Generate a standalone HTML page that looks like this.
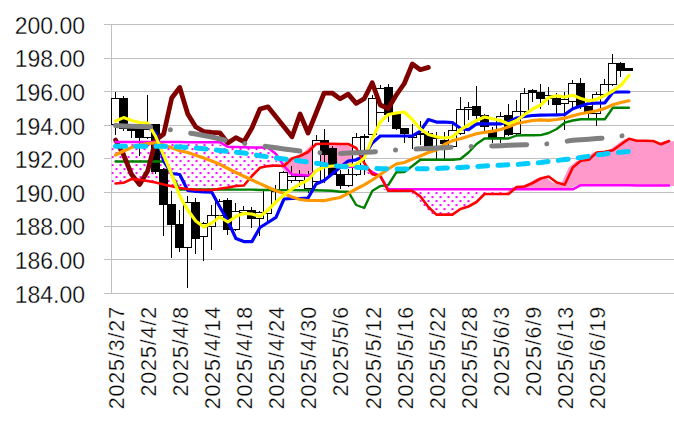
<!DOCTYPE html>
<html><head><meta charset="utf-8"><style>
html,body{margin:0;padding:0;background:#fff;width:674px;height:431px;overflow:hidden;position:relative}
body{font-family:"Liberation Sans",sans-serif;color:#000;-webkit-text-stroke:0.3px #fff}
.yl{position:absolute;right:589px;font-size:23px;line-height:30px;height:30px;white-space:nowrap}
.xl{position:absolute;top:506px;width:200px;height:24px;line-height:24px;text-align:right;font-size:21.5px;letter-spacing:0.85px;transform-origin:0 0;transform:rotate(-90deg);white-space:nowrap}
</style></head><body>
<svg width="674" height="431" viewBox="0 0 674 431" style="position:absolute;left:0;top:0"><g stroke="#c0c0c0" stroke-width="1" shape-rendering="crispEdges"><line x1="104" y1="24.50" x2="674" y2="24.50"/><line x1="104" y1="58.50" x2="674" y2="58.50"/><line x1="104" y1="91.50" x2="674" y2="91.50"/><line x1="104" y1="125.50" x2="674" y2="125.50"/><line x1="104" y1="158.50" x2="674" y2="158.50"/><line x1="104" y1="192.50" x2="674" y2="192.50"/><line x1="104" y1="226.50" x2="674" y2="226.50"/><line x1="104" y1="259.50" x2="674" y2="259.50"/><line x1="104" y1="293.50" x2="674" y2="293.50"/><line x1="111.5" y1="24" x2="111.5" y2="294"/></g><defs><pattern id="dots" width="8" height="8" patternUnits="userSpaceOnUse" patternTransform="translate(-0.5,4.1)"><rect x="0" y="0" width="8" height="8" fill="#fff"/><rect x="0" y="0" width="2" height="2" fill="#ff00ff"/><rect x="4" y="4" width="2" height="2" fill="#ff00ff"/></pattern></defs><polygon points="111.55,183.50 119.57,182.80 127.59,179.00 135.61,179.80 143.63,181.00 151.66,182.50 159.68,184.50 167.70,186.20 175.72,188.00 183.74,189.00 191.76,189.80 199.78,190.00 207.80,190.00 215.82,188.70 223.84,187.50 231.87,186.00 239.89,185.50 247.91,176.00 255.93,167.80 263.95,166.10 271.97,165.50 279.99,166.00 288.01,158.50 296.03,156.00 304.05,152.00 312.08,144.00 320.10,143.70 328.12,143.70 336.14,144.00 344.16,144.00 352.18,148.00 360.20,163.00 368.22,174.30 376.24,176.00 384.26,190.80 392.29,190.80 400.31,190.80 408.33,190.80 416.35,196.50 424.37,207.00 432.39,214.60 440.41,214.60 448.43,214.60 456.45,209.00 464.47,206.50 472.50,202.00 480.52,194.00 488.54,194.00 496.56,194.00 504.58,194.00 512.60,187.00 520.62,186.50 528.64,183.00 536.66,178.50 544.68,176.50 552.71,182.50 560.73,184.80 568.75,167.50 576.77,160.80 584.79,159.80 592.81,152.50 600.83,151.80 608.85,150.20 616.87,144.50 624.89,138.80 632.91,140.80 640.94,140.80 648.96,141.00 656.98,144.30 665.00,141.00 673.02,141.20 681.04,141.20 681.04,186.00 673.02,186.00 665.00,185.50 656.98,185.47 648.96,185.45 640.94,185.42 632.91,185.39 624.89,185.36 616.87,185.34 608.85,185.31 600.83,185.28 592.81,185.25 584.79,185.23 576.77,185.20 568.75,189.30 560.73,189.30 552.71,189.30 544.68,189.30 536.66,189.30 528.64,189.30 520.62,189.30 512.60,189.30 504.58,194.00 496.56,194.00 488.54,194.00 480.52,194.00 472.50,202.00 464.47,206.50 456.45,209.00 448.43,214.60 440.41,214.60 432.39,214.60 424.37,207.00 416.35,196.50 408.33,190.80 400.31,190.80 392.29,190.80 384.26,190.80 376.24,176.00 368.22,174.30 360.20,167.00 352.18,166.86 344.16,166.72 336.14,166.58 328.12,166.44 320.10,166.30 312.08,170.95 304.05,175.60 296.03,175.05 288.01,174.50 279.99,166.00 271.97,165.50 263.95,166.10 255.93,167.80 247.91,176.00 239.89,185.50 231.87,186.00 223.84,187.50 215.82,188.70 207.80,190.00 199.78,190.00 191.76,189.80 183.74,189.00 175.72,188.00 167.70,186.20 159.68,184.50 151.66,182.50 143.63,181.00 135.61,179.80 127.59,179.00 119.57,182.80 111.55,183.50" fill="#ff99cc"/><polygon points="111.55,142.00 119.57,142.02 127.59,142.03 135.61,142.05 143.63,142.06 151.66,142.08 159.68,142.09 167.70,142.11 175.72,142.12 183.74,142.14 191.76,142.15 199.78,142.17 207.80,142.18 215.82,142.20 223.84,146.80 231.87,147.00 239.89,147.20 247.91,147.40 255.93,147.60 263.95,147.80 271.97,154.00 279.99,166.00 288.01,158.50 296.03,156.00 304.05,152.00 312.08,144.00 320.10,143.70 328.12,143.70 336.14,144.00 344.16,144.00 352.18,148.00 360.20,163.00 368.22,172.00 376.24,176.00 384.26,189.30 392.29,189.30 400.31,189.30 408.33,189.30 416.35,189.30 424.37,189.30 432.39,189.30 440.41,189.30 448.43,189.30 456.45,189.30 464.47,189.30 472.50,189.30 480.52,189.30 488.54,189.30 496.56,189.30 504.58,189.30 512.60,187.00 520.62,186.50 528.64,183.00 536.66,178.50 544.68,176.50 552.71,182.50 560.73,184.80 568.75,167.50 576.77,160.80 584.79,159.80 592.81,152.50 600.83,151.80 608.85,150.20 616.87,144.50 624.89,138.80 632.91,140.80 640.94,140.80 648.96,141.00 656.98,144.30 665.00,141.00 673.02,141.20 681.04,141.20 681.04,141.20 673.02,141.20 665.00,141.00 656.98,144.30 648.96,141.00 640.94,140.80 632.91,140.80 624.89,138.80 616.87,144.50 608.85,150.20 600.83,151.80 592.81,152.50 584.79,159.80 576.77,160.80 568.75,167.50 560.73,184.80 552.71,182.50 544.68,176.50 536.66,178.50 528.64,183.00 520.62,186.50 512.60,187.00 504.58,194.00 496.56,194.00 488.54,194.00 480.52,194.00 472.50,202.00 464.47,206.50 456.45,209.00 448.43,214.60 440.41,214.60 432.39,214.60 424.37,207.00 416.35,196.50 408.33,190.80 400.31,190.80 392.29,190.80 384.26,190.80 376.24,176.00 368.22,174.30 360.20,163.00 352.18,148.00 344.16,144.00 336.14,144.00 328.12,143.70 320.10,143.70 312.08,144.00 304.05,152.00 296.03,156.00 288.01,158.50 279.99,166.00 271.97,165.50 263.95,166.10 255.93,167.80 247.91,176.00 239.89,185.50 231.87,186.00 223.84,187.50 215.82,188.70 207.80,190.00 199.78,190.00 191.76,189.80 183.74,189.00 175.72,188.00 167.70,186.20 159.68,184.50 151.66,182.50 143.63,181.00 135.61,179.80 127.59,179.00 119.57,182.80 111.55,183.50" fill="url(#dots)"/><g shape-rendering="crispEdges"><line x1="115.5" y1="92" x2="115.5" y2="135" stroke="#000" stroke-width="1"/><rect x="111.5" y="98.5" width="8" height="26" fill="#fff" stroke="#000" stroke-width="1"/><line x1="123.5" y1="96" x2="123.5" y2="131" stroke="#000" stroke-width="1"/><rect x="119" y="98" width="9" height="31" fill="#000"/><line x1="131.5" y1="128" x2="131.5" y2="138" stroke="#000" stroke-width="1"/><rect x="127" y="128" width="9" height="3" fill="#000"/><line x1="139.5" y1="128" x2="139.5" y2="156" stroke="#000" stroke-width="1"/><rect x="135" y="128" width="9" height="10" fill="#000"/><line x1="147.5" y1="95" x2="147.5" y2="139" stroke="#000" stroke-width="1"/><rect x="143.5" y="129.5" width="8" height="8" fill="#fff" stroke="#000" stroke-width="1"/><line x1="155.5" y1="124" x2="155.5" y2="174" stroke="#000" stroke-width="1"/><rect x="151" y="124" width="9" height="48" fill="#000"/><line x1="163.5" y1="168" x2="163.5" y2="236" stroke="#000" stroke-width="1"/><rect x="159" y="169" width="9" height="36" fill="#000"/><line x1="171.5" y1="191" x2="171.5" y2="258" stroke="#000" stroke-width="1"/><rect x="167" y="204" width="9" height="21" fill="#000"/><line x1="179.5" y1="210" x2="179.5" y2="252" stroke="#000" stroke-width="1"/><rect x="175" y="224" width="9" height="24" fill="#000"/><line x1="187.5" y1="196" x2="187.5" y2="288" stroke="#000" stroke-width="1"/><rect x="183.5" y="202.5" width="8" height="45" fill="#fff" stroke="#000" stroke-width="1"/><line x1="195.5" y1="198" x2="195.5" y2="254" stroke="#000" stroke-width="1"/><rect x="191" y="202" width="9" height="37" fill="#000"/><line x1="203.5" y1="222" x2="203.5" y2="261" stroke="#000" stroke-width="1"/><rect x="199.5" y="223.5" width="8" height="13" fill="#fff" stroke="#000" stroke-width="1"/><line x1="211.5" y1="205" x2="211.5" y2="250" stroke="#000" stroke-width="1"/><rect x="207.5" y="215.5" width="8" height="11" fill="#fff" stroke="#000" stroke-width="1"/><line x1="219.5" y1="199" x2="219.5" y2="217" stroke="#000" stroke-width="1"/><rect x="215.5" y="201.5" width="8" height="14" fill="#fff" stroke="#000" stroke-width="1"/><line x1="227.5" y1="198" x2="227.5" y2="235" stroke="#000" stroke-width="1"/><rect x="223" y="200" width="9" height="30" fill="#000"/><line x1="235.5" y1="203" x2="235.5" y2="231" stroke="#000" stroke-width="1"/><rect x="231.5" y="211.5" width="8" height="18" fill="#fff" stroke="#000" stroke-width="1"/><line x1="243.5" y1="206" x2="243.5" y2="214" stroke="#000" stroke-width="1"/><rect x="239.5" y="210.5" width="8" height="2" fill="#fff" stroke="#000" stroke-width="1"/><line x1="251.5" y1="207" x2="251.5" y2="228" stroke="#000" stroke-width="1"/><rect x="247" y="210" width="9" height="9" fill="#000"/><line x1="259.5" y1="211" x2="259.5" y2="236" stroke="#000" stroke-width="1"/><rect x="255.5" y="212.5" width="8" height="6" fill="#fff" stroke="#000" stroke-width="1"/><line x1="267.5" y1="190" x2="267.5" y2="222" stroke="#000" stroke-width="1"/><rect x="263.5" y="190.5" width="8" height="23" fill="#fff" stroke="#000" stroke-width="1"/><line x1="275.5" y1="185" x2="275.5" y2="202" stroke="#000" stroke-width="1"/><rect x="271.5" y="190.5" width="8" height="1" fill="#fff" stroke="#000" stroke-width="1"/><line x1="283.5" y1="171" x2="283.5" y2="194" stroke="#000" stroke-width="1"/><rect x="279.5" y="172.5" width="8" height="20" fill="#fff" stroke="#000" stroke-width="1"/><line x1="291.5" y1="166" x2="291.5" y2="183" stroke="#000" stroke-width="1"/><rect x="287.5" y="176.5" width="8" height="4" fill="#fff" stroke="#000" stroke-width="1"/><line x1="299.5" y1="170" x2="299.5" y2="187" stroke="#000" stroke-width="1"/><rect x="295.5" y="176.5" width="9" height="4" fill="#fff" stroke="#000" stroke-width="1"/><line x1="308.5" y1="171" x2="308.5" y2="193" stroke="#000" stroke-width="1"/><rect x="304.5" y="176.5" width="8" height="12" fill="#fff" stroke="#000" stroke-width="1"/><line x1="316.5" y1="135" x2="316.5" y2="183" stroke="#000" stroke-width="1"/><rect x="312.5" y="140.5" width="8" height="41" fill="#fff" stroke="#000" stroke-width="1"/><line x1="324.5" y1="129" x2="324.5" y2="183" stroke="#000" stroke-width="1"/><rect x="320" y="140" width="9" height="15" fill="#000"/><line x1="332.5" y1="146" x2="332.5" y2="175" stroke="#000" stroke-width="1"/><rect x="328" y="148" width="9" height="27" fill="#000"/><line x1="340.5" y1="170" x2="340.5" y2="189" stroke="#000" stroke-width="1"/><rect x="336" y="174" width="9" height="12" fill="#000"/><line x1="348.5" y1="169" x2="348.5" y2="187" stroke="#000" stroke-width="1"/><rect x="344.5" y="174.5" width="8" height="11" fill="#fff" stroke="#000" stroke-width="1"/><line x1="356.5" y1="133" x2="356.5" y2="176" stroke="#000" stroke-width="1"/><rect x="352.5" y="137.5" width="8" height="37" fill="#fff" stroke="#000" stroke-width="1"/><line x1="364.5" y1="134" x2="364.5" y2="175" stroke="#000" stroke-width="1"/><rect x="360.5" y="136.5" width="8" height="1" fill="#fff" stroke="#000" stroke-width="1"/><line x1="372.5" y1="95" x2="372.5" y2="136" stroke="#000" stroke-width="1"/><rect x="368.5" y="98.5" width="8" height="36" fill="#fff" stroke="#000" stroke-width="1"/><line x1="380.5" y1="85" x2="380.5" y2="113" stroke="#000" stroke-width="1"/><rect x="376.5" y="88.5" width="8" height="24" fill="#fff" stroke="#000" stroke-width="1"/><line x1="388.5" y1="84" x2="388.5" y2="122" stroke="#000" stroke-width="1"/><rect x="384" y="87" width="9" height="28" fill="#000"/><line x1="396.5" y1="113" x2="396.5" y2="130" stroke="#000" stroke-width="1"/><rect x="392" y="114" width="9" height="15" fill="#000"/><line x1="404.5" y1="128" x2="404.5" y2="143" stroke="#000" stroke-width="1"/><rect x="400" y="128" width="9" height="6" fill="#000"/><line x1="412.5" y1="124" x2="412.5" y2="149" stroke="#000" stroke-width="1"/><rect x="408.5" y="135.5" width="8" height="2" fill="#fff" stroke="#000" stroke-width="1"/><line x1="420.5" y1="121" x2="420.5" y2="145" stroke="#000" stroke-width="1"/><rect x="416.5" y="133.5" width="8" height="1" fill="#fff" stroke="#000" stroke-width="1"/><line x1="428.5" y1="131" x2="428.5" y2="147" stroke="#000" stroke-width="1"/><rect x="424" y="133" width="9" height="14" fill="#000"/><line x1="436.5" y1="132" x2="436.5" y2="160" stroke="#000" stroke-width="1"/><rect x="432.5" y="137.5" width="8" height="1" fill="#fff" stroke="#000" stroke-width="1"/><line x1="444.5" y1="132" x2="444.5" y2="159" stroke="#000" stroke-width="1"/><rect x="440" y="140" width="9" height="4" fill="#000"/><line x1="452.5" y1="124" x2="452.5" y2="148" stroke="#000" stroke-width="1"/><rect x="448.5" y="130.5" width="8" height="16" fill="#fff" stroke="#000" stroke-width="1"/><line x1="460.5" y1="97" x2="460.5" y2="135" stroke="#000" stroke-width="1"/><rect x="456.5" y="109.5" width="8" height="24" fill="#fff" stroke="#000" stroke-width="1"/><line x1="468.5" y1="102" x2="468.5" y2="120" stroke="#000" stroke-width="1"/><rect x="464.5" y="107.5" width="8" height="2" fill="#fff" stroke="#000" stroke-width="1"/><line x1="476.5" y1="86" x2="476.5" y2="120" stroke="#000" stroke-width="1"/><rect x="472" y="106" width="9" height="10" fill="#000"/><line x1="484.5" y1="114" x2="484.5" y2="133" stroke="#000" stroke-width="1"/><rect x="480" y="115" width="9" height="12" fill="#000"/><line x1="492.5" y1="127" x2="492.5" y2="143" stroke="#000" stroke-width="1"/><rect x="488" y="130" width="9" height="8" fill="#000"/><line x1="500.5" y1="112" x2="500.5" y2="143" stroke="#000" stroke-width="1"/><rect x="496.5" y="116.5" width="8" height="21" fill="#fff" stroke="#000" stroke-width="1"/><line x1="508.5" y1="104" x2="508.5" y2="136" stroke="#000" stroke-width="1"/><rect x="504" y="115" width="9" height="20" fill="#000"/><line x1="516.5" y1="100" x2="516.5" y2="135" stroke="#000" stroke-width="1"/><rect x="512.5" y="111.5" width="8" height="22" fill="#fff" stroke="#000" stroke-width="1"/><line x1="524.5" y1="88" x2="524.5" y2="113" stroke="#000" stroke-width="1"/><rect x="520.5" y="93.5" width="8" height="18" fill="#fff" stroke="#000" stroke-width="1"/><line x1="532.5" y1="89" x2="532.5" y2="102" stroke="#000" stroke-width="1"/><rect x="528" y="90" width="9" height="3" fill="#000"/><line x1="540.5" y1="84" x2="540.5" y2="109" stroke="#000" stroke-width="1"/><rect x="536" y="92" width="9" height="7" fill="#000"/><line x1="548.5" y1="87" x2="548.5" y2="105" stroke="#000" stroke-width="1"/><rect x="544.5" y="95.5" width="8" height="3" fill="#fff" stroke="#000" stroke-width="1"/><line x1="556.5" y1="93" x2="556.5" y2="115" stroke="#000" stroke-width="1"/><rect x="552" y="98" width="9" height="7" fill="#000"/><line x1="564.5" y1="92" x2="564.5" y2="130" stroke="#000" stroke-width="1"/><rect x="560.5" y="99.5" width="8" height="4" fill="#fff" stroke="#000" stroke-width="1"/><line x1="572.5" y1="80" x2="572.5" y2="110" stroke="#000" stroke-width="1"/><rect x="568.5" y="83.5" width="8" height="18" fill="#fff" stroke="#000" stroke-width="1"/><line x1="580.5" y1="78" x2="580.5" y2="109" stroke="#000" stroke-width="1"/><rect x="576" y="83" width="9" height="24" fill="#000"/><line x1="588.5" y1="106" x2="588.5" y2="119" stroke="#000" stroke-width="1"/><rect x="584" y="106" width="9" height="8" fill="#000"/><line x1="596.5" y1="92" x2="596.5" y2="126" stroke="#000" stroke-width="1"/><rect x="592.5" y="94.5" width="8" height="19" fill="#fff" stroke="#000" stroke-width="1"/><line x1="604.5" y1="79" x2="604.5" y2="96" stroke="#000" stroke-width="1"/><rect x="600.5" y="84.5" width="8" height="10" fill="#fff" stroke="#000" stroke-width="1"/><line x1="612.5" y1="54" x2="612.5" y2="86" stroke="#000" stroke-width="1"/><rect x="608.5" y="63.5" width="8" height="21" fill="#fff" stroke="#000" stroke-width="1"/><line x1="620.5" y1="62" x2="620.5" y2="77" stroke="#000" stroke-width="1"/><rect x="616" y="63" width="9" height="8" fill="#000"/><line x1="628.5" y1="68" x2="628.5" y2="71" stroke="#000" stroke-width="1"/><rect x="624" y="68" width="9" height="3" fill="#000"/></g><polyline points="115.56,161.50 123.58,161.50 131.60,161.50 139.62,161.50 147.64,161.50 155.67,161.50 163.69,161.50 171.71,175.00 179.73,189.50 187.75,189.51 195.77,189.52 203.79,189.53 211.81,189.54 219.83,189.56 227.85,189.57 235.88,189.58 243.90,189.59 251.92,189.60 259.94,190.00 267.96,190.04 275.98,190.09 284.00,190.13 292.02,190.17 300.04,190.21 308.06,190.26 316.09,190.30 324.11,190.50 332.13,190.80 340.15,191.70 348.17,191.70 356.19,205.00 364.21,208.00 372.23,191.00 380.25,186.10 388.27,185.00 396.30,172.30 404.32,172.00 412.34,166.00 420.36,159.70 428.38,159.70 436.40,159.70 444.42,159.70 452.44,159.70 460.46,159.00 468.48,152.50 476.51,144.00 484.53,138.50 492.55,138.50 500.57,138.50 508.59,138.50 516.61,135.50 524.63,135.30 532.65,135.20 540.67,135.10 548.69,133.00 556.72,129.00 564.74,122.70 572.76,120.50 580.78,119.30 588.80,119.30 596.82,119.30 604.84,119.30 612.86,107.70 620.88,107.70 628.90,107.70" fill="none" stroke="#008000" stroke-width="2.4" stroke-linejoin="round" stroke-linecap="round" /><polyline points="115.56,140.00 123.58,155.00 131.60,174.50 139.62,184.50 147.64,171.00 155.67,140.00 163.69,134.00 171.71,98.00 179.73,87.50 187.75,114.00 195.77,127.00 203.79,131.50 211.81,132.30 219.83,132.80 227.85,143.00 235.88,137.60 243.90,141.70 251.92,128.00 259.94,109.00 267.96,106.80 275.98,116.70 284.00,126.70 292.02,136.80 300.04,114.00 308.06,133.00 316.09,113.00 324.11,93.00 332.13,93.00 340.15,98.80 348.17,94.10 356.19,103.40 364.21,98.80 372.23,82.70 380.25,105.00 388.27,108.50 396.30,95.00 404.32,83.50 412.34,64.00 420.36,69.70 428.38,67.40" fill="none" stroke="#800000" stroke-width="4.75" stroke-linejoin="round" stroke-linecap="round" /><polyline points="115.56,126.00 123.58,126.25 131.60,126.50 139.62,126.75 147.64,127.00 155.67,133.00 163.69,161.00 171.71,173.50 179.73,174.50 187.75,190.50 195.77,191.50 203.79,192.00 211.81,192.20 219.83,207.00 227.85,221.00 235.88,238.50 243.90,241.60 251.92,241.60 259.94,227.50 267.96,222.50 275.98,217.40 284.00,199.00 292.02,198.50 300.04,198.50 308.06,198.00 316.09,184.00 324.11,180.50 332.13,174.00 340.15,167.20 348.17,161.00 356.19,159.80 364.21,156.00 372.23,143.00 380.25,136.00 388.27,136.00 396.30,136.00 404.32,136.00 412.34,136.00 420.36,131.00 428.38,119.50 436.40,122.10 444.42,122.10 452.44,122.50 460.46,128.30 468.48,129.70 476.51,123.90 484.53,123.90 492.55,123.90 500.57,123.90 508.59,122.00 516.61,118.00 524.63,116.50 532.65,115.50 540.67,115.20 548.69,115.00 556.72,114.80 564.74,114.50 572.76,108.70 580.78,106.00 588.80,103.50 596.82,103.20 604.84,102.80 612.86,92.20 620.88,92.00 628.90,92.00" fill="none" stroke="#0000ff" stroke-width="3.2" stroke-linejoin="round" stroke-linecap="round" /><polyline points="115.56,142.00 123.58,142.02 131.60,142.03 139.62,142.05 147.64,142.06 155.67,142.08 163.69,142.09 171.71,142.11 179.73,142.12 187.75,142.14 195.77,142.15 203.79,142.17 211.81,142.18 219.83,142.20 227.85,146.80 235.88,147.00 243.90,147.20 251.92,147.40 259.94,147.60 267.96,147.80 275.98,154.00 284.00,166.00 292.02,174.50 300.04,175.05 308.06,175.60 316.09,170.95 324.11,166.30 332.13,166.44 340.15,166.58 348.17,166.72 356.19,166.86 364.21,167.00 372.23,172.00 380.25,176.00 388.27,189.30 396.30,189.30 404.32,189.30 412.34,189.30 420.36,189.30 428.38,189.30 436.40,189.30 444.42,189.30 452.44,189.30 460.46,189.30 468.48,189.30 476.51,189.30 484.53,189.30 492.55,189.30 500.57,189.30 508.59,189.30 516.61,189.30 524.63,189.30 532.65,189.30 540.67,189.30 548.69,189.30 556.72,189.30 564.74,189.30 572.76,189.30 580.78,185.20 588.80,185.23 596.82,185.25 604.84,185.28 612.86,185.31 620.88,185.34 628.90,185.36 636.93,185.39 644.95,185.42 652.97,185.45 660.99,185.47 669.01,185.50" fill="none" stroke="#ff00ff" stroke-width="2.5" stroke-linejoin="round" stroke-linecap="round" /><polyline points="115.56,183.50 123.58,182.80 131.60,179.00 139.62,179.80 147.64,181.00 155.67,182.50 163.69,184.50 171.71,186.20 179.73,188.00 187.75,189.00 195.77,189.80 203.79,190.00 211.81,190.00 219.83,188.70 227.85,187.50 235.88,186.00 243.90,185.50 251.92,176.00 259.94,167.80 267.96,166.10 275.98,165.50 284.00,166.00 292.02,158.50 300.04,156.00 308.06,152.00 316.09,144.00 324.11,143.70 332.13,143.70 340.15,144.00 348.17,144.00 356.19,148.00 364.21,163.00 372.23,174.30 380.25,176.00 388.27,190.80 396.30,190.80 404.32,190.80 412.34,190.80 420.36,196.50 428.38,207.00 436.40,214.60 444.42,214.60 452.44,214.60 460.46,209.00 468.48,206.50 476.51,202.00 484.53,194.00 492.55,194.00 500.57,194.00 508.59,194.00 516.61,187.00 524.63,186.50 532.65,183.00 540.67,178.50 548.69,176.50 556.72,182.50 564.74,184.80 572.76,167.50 580.78,160.80 588.80,159.80 596.82,152.50 604.84,151.80 612.86,150.20 620.88,144.50 628.90,138.80 636.93,140.80 644.95,140.80 652.97,141.00 660.99,144.30 669.01,141.00" fill="none" stroke="#ff0000" stroke-width="2.6" stroke-linejoin="round" stroke-linecap="round" /><polyline points="115.56,155.00 123.58,151.00 131.60,147.50 139.62,145.00 147.64,143.50 155.67,142.80 163.69,145.00 171.71,147.80 179.73,150.70 187.75,152.50 195.77,155.20 203.79,158.10 211.81,161.10 219.83,164.30 227.85,168.50 235.88,172.50 243.90,176.20 251.92,180.00 259.94,183.60 267.96,187.30 275.98,190.80 284.00,193.50 292.02,197.00 300.04,199.50 308.06,200.50 316.09,200.50 324.11,200.70 332.13,199.00 340.15,197.50 348.17,193.40 356.19,189.00 364.21,184.80 372.23,180.00 380.25,174.50 388.27,169.00 396.30,164.00 404.32,162.50 412.34,159.00 420.36,156.00 428.38,152.50 436.40,150.00 444.42,144.50 452.44,140.60 460.46,138.80 468.48,136.30 476.51,133.80 484.53,132.30 492.55,131.20 500.57,129.50 508.59,126.80 516.61,123.50 524.63,122.00 532.65,120.50 540.67,119.80 548.69,120.30 556.72,119.50 564.74,118.20 572.76,115.80 580.78,113.80 588.80,112.20 596.82,110.70 604.84,108.40 612.86,104.80 620.88,102.50 628.90,100.80" fill="none" stroke="#ff9900" stroke-width="3.2" stroke-linejoin="round" stroke-linecap="round" /><polyline points="115.56,121.00 123.58,117.60 131.60,120.50 139.62,122.50 147.64,123.20 155.67,136.50 163.69,155.50 171.71,174.50 179.73,196.00 187.75,210.00 195.77,221.00 203.79,227.00 211.81,223.00 219.83,217.00 227.85,222.00 235.88,216.50 243.90,213.30 251.92,214.00 259.94,216.50 267.96,210.00 275.98,202.00 284.00,195.00 292.02,189.00 300.04,184.00 308.06,180.00 316.09,170.70 324.11,167.00 332.13,166.00 340.15,165.60 348.17,165.30 356.19,164.90 364.21,158.00 372.23,139.00 380.25,122.00 388.27,114.50 396.30,113.00 404.32,112.00 412.34,119.50 420.36,129.00 428.38,134.50 436.40,136.80 444.42,138.00 452.44,137.00 460.46,129.70 468.48,125.00 476.51,120.50 484.53,117.00 492.55,118.70 500.57,120.50 508.59,124.00 516.61,120.50 524.63,114.50 532.65,109.00 540.67,105.00 548.69,97.50 556.72,95.80 564.74,97.00 572.76,95.20 580.78,98.50 588.80,100.90 596.82,99.30 604.84,95.50 612.86,91.00 620.88,85.40 628.90,75.50" fill="none" stroke="#ffff00" stroke-width="3.2" stroke-linejoin="round" stroke-linecap="round" /><polyline points="115.56,146.30 123.58,146.30 131.60,146.30 139.62,146.30 147.64,146.30 155.67,146.30 163.69,146.30 171.71,146.60 179.73,146.90 187.75,147.45 195.77,148.00 203.79,148.75 211.81,149.50 219.83,150.50 227.85,151.50 235.88,152.25 243.90,153.00 251.92,154.35 259.94,155.70 267.96,156.85 275.98,158.00 284.00,159.00 292.02,160.00 300.04,161.00 308.06,162.00 316.09,163.25 324.11,164.50 332.13,165.40 340.15,166.30 348.17,166.78 356.19,167.26 364.21,167.74 372.23,168.22 380.25,168.70 388.27,168.80 396.30,168.90 404.32,169.00 412.34,168.88 420.36,168.75 428.38,168.62 436.40,168.50 444.42,168.12 452.44,167.75 460.46,167.38 468.48,167.00 476.51,166.50 484.53,166.00 492.55,165.50 500.57,165.17 508.59,164.83 516.61,164.50 524.63,163.83 532.65,163.17 540.67,162.50 548.69,161.53 556.72,160.57 564.74,159.60 572.76,158.55 580.78,157.50 588.80,156.25 596.82,155.00 604.84,154.00 612.86,153.00 620.88,152.25 628.90,151.50" fill="none" stroke="#00ccff" stroke-width="5" stroke-linejoin="round" stroke-linecap="round" stroke-dasharray="9.9 10.3"/><polyline points="115.56,125.60 123.58,125.88 131.60,126.16 139.62,126.44 147.64,126.72 155.67,127.00 163.69,128.50 171.71,130.00 179.73,131.33 187.75,132.67 195.77,134.00 203.79,135.50 211.81,137.00 219.83,139.00 227.85,141.00 235.88,142.15 243.90,143.30 251.92,144.43 259.94,145.57 267.96,146.70 275.98,147.80 284.00,148.90 292.02,150.00 300.04,151.10 308.06,151.85 316.09,152.60 324.11,152.90 332.13,153.20 340.15,153.50 348.17,153.10 356.19,152.70 364.21,152.30 372.23,151.90 380.25,151.50 388.27,150.75 396.30,150.00 404.32,149.60 412.34,149.20 420.36,148.80 428.38,148.42 436.40,148.03 444.42,147.65 452.44,147.27 460.46,146.88 468.48,146.50 476.51,146.33 484.53,146.17 492.55,146.00 500.57,145.69 508.59,145.37 516.61,145.06 524.63,144.74 532.65,144.43 540.67,144.11 548.69,143.80 556.72,142.63 564.74,141.47 572.76,140.30 580.78,139.73 588.80,139.15 596.82,138.57 604.84,138.00 612.86,137.00 620.88,136.00 628.90,135.00" fill="none" stroke="#808080" stroke-width="5" stroke-linejoin="round" stroke-linecap="round" stroke-dasharray="35 20.1 0.01 20.6"/></svg>
<div class="yl" style="top:10.70px">200.00</div><div class="yl" style="top:44.33px">198.00</div><div class="yl" style="top:77.95px">196.00</div><div class="yl" style="top:111.58px">194.00</div><div class="yl" style="top:145.20px">192.00</div><div class="yl" style="top:178.82px">190.00</div><div class="yl" style="top:212.45px">188.00</div><div class="yl" style="top:246.07px">186.00</div><div class="yl" style="top:279.70px">184.00</div>
<div class="xl" style="left:104.56px">2025/3/27</div><div class="xl" style="left:136.69px">2025/4/2</div><div class="xl" style="left:168.81px">2025/4/8</div><div class="xl" style="left:200.92px">2025/4/14</div><div class="xl" style="left:233.04px">2025/4/18</div><div class="xl" style="left:265.16px">2025/4/24</div><div class="xl" style="left:297.28px">2025/4/30</div><div class="xl" style="left:329.40px">2025/5/6</div><div class="xl" style="left:361.52px">2025/5/12</div><div class="xl" style="left:393.64px">2025/5/16</div><div class="xl" style="left:425.76px">2025/5/22</div><div class="xl" style="left:457.88px">2025/5/28</div><div class="xl" style="left:490.00px">2025/6/3</div><div class="xl" style="left:522.12px">2025/6/9</div><div class="xl" style="left:554.24px">2025/6/13</div><div class="xl" style="left:586.36px">2025/6/19</div>
</body></html>
